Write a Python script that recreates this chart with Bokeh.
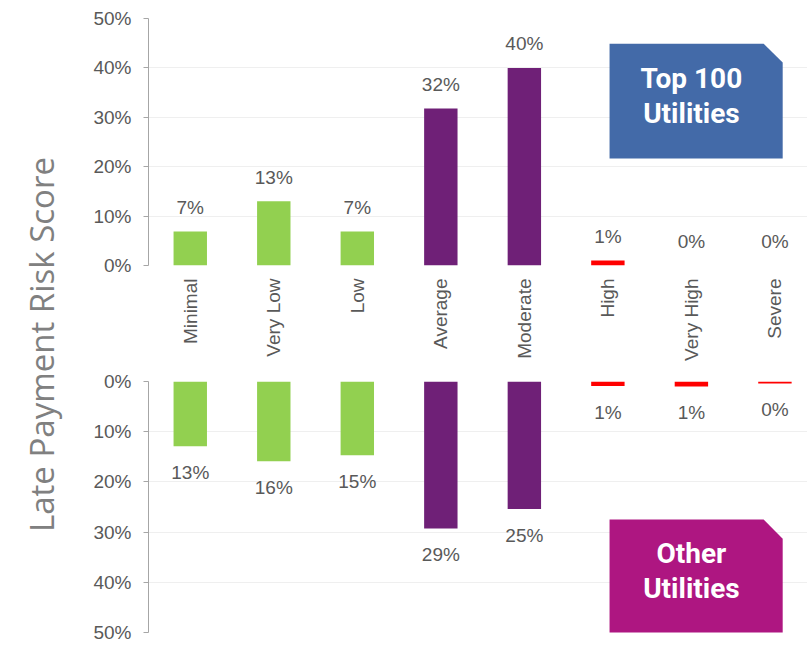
import math
from bokeh.plotting import figure
from bokeh.layouts import row, column
from bokeh.models import (Range1d, FixedTicker, PrintfTickFormatter, ColumnDataSource,
                          PolyAnnotation, Label)
from bokeh.core.properties import value
from bokeh.embed import file_html
from bokeh.resources import INLINE

# ---------------- data ----------------
categories = ["Minimal", "Very Low", "Low", "Average", "Moderate", "High", "Very High", "Severe"]
top100_values = [6.9, 13.0, 6.9, 31.8, 40.0, 1.0, 0.0, 0.0]
other_values = [12.9, 15.9, 14.7, 29.3, 25.4, 0.9, 1.0, 0.4]
pct_ticks = [0, 10, 20, 30, 40, 50]
axis_title = "Late Payment Risk Score"
top_box_lines = ["Top 100", "Utilities"]
bottom_box_lines = ["Other", "Utilities"]

# ---------------- styles ----------------
bar_colors = ["#92d050"] * 3 + ["#6f2077"] * 2 + ["#ff0000"] * 3
TXT = "#595959"
GRID = "#efefef"
AXIS = "#a6a6a6"
FONT = "Liberation Sans"
FS = "19px"

idx = list(range(len(categories)))
X_RANGE = (-0.5, 7.39)


def base_fig(height, y_range, border_top, border_bottom, with_x_axis):
    kw = dict(width=729, height=height, x_range=Range1d(*X_RANGE), y_range=y_range,
              output_backend="svg", toolbar_location=None,
              min_border_left=70, min_border_right=0,
              min_border_top=border_top, min_border_bottom=border_bottom)
    if not with_x_axis:
        kw["x_axis_location"] = None
    p = figure(**kw)
    p.outline_line_color = None
    p.xgrid.grid_line_color = None
    p.ygrid.grid_line_color = GRID
    p.ygrid.ticker = FixedTicker(ticks=pct_ticks)
    yax = p.yaxis[0]
    yax.ticker = FixedTicker(ticks=pct_ticks)
    yax.formatter = PrintfTickFormatter(format="%d%%")
    yax.axis_line_color = AXIS
    yax.major_tick_line_color = AXIS
    yax.major_tick_out = 5
    yax.major_tick_in = 0
    yax.minor_tick_line_color = None
    yax.major_label_text_font = FONT
    yax.major_label_text_font_size = FS
    yax.major_label_text_color = TXT
    yax.major_label_standoff = 12
    return p


# ---------------- top panel ----------------
src_top = ColumnDataSource(dict(x=idx, v=top100_values, c=bar_colors,
                                lab=[f"{round(v)}%" for v in top100_values]))
top = base_fig(370, Range1d(0, 50), 18, 105, True)
top.vbar(x="x", top="v", bottom=0, width=0.4, fill_color="c", line_color=None, source=src_top)
top.text(x="x", y="v", text="lab", source=src_top, y_offset=-24,
         text_align="center", text_baseline="alphabetic",
         text_font=value(FONT), text_font_size=FS, text_color=TXT)
xax = top.xaxis[0]
xax.ticker = FixedTicker(ticks=idx)
xax.major_label_overrides = {i: c for i, c in zip(idx, categories)}
xax.major_label_orientation = math.pi / 2
xax.axis_line_color = None
xax.major_tick_line_color = None
xax.minor_tick_line_color = None
xax.major_label_standoff = 7
xax.major_label_text_font = FONT
xax.major_label_text_font_size = FS
xax.major_label_text_color = TXT

top.add_layout(PolyAnnotation(xs=[5.02, 6.865, 7.093, 7.093, 5.02],
                              ys=[44.9, 44.9, 41.1, 21.66, 21.66],
                              fill_color="#436aa8", fill_alpha=1.0, line_color=None))
for txt, yy in zip(top_box_lines, [37.9, 30.7]):
    top.add_layout(Label(x=6.0, y=yy, text=txt, text_align="center", text_baseline="alphabetic",
                         text_font="Roboto", text_font_style="bold", text_font_size="28px",
                         text_color="white"))

# ---------------- bottom panel ----------------
src_bot = ColumnDataSource(dict(x=idx, v=other_values, c=bar_colors,
                                lab=[f"{round(v)}%" for v in other_values]))
bot = base_fig(277, Range1d(50, 0), 11, 15, False)
bot.vbar(x="x", top=0, bottom="v", width=0.4, fill_color="c", line_color=None, source=src_bot)
bot.text(x="x", y="v", text="lab", source=src_bot, y_offset=26,
         text_align="center", text_baseline="alphabetic",
         text_font=value(FONT), text_font_size=FS, text_color=TXT)

bot.add_layout(PolyAnnotation(xs=[5.02, 6.865, 7.093, 7.093, 5.02],
                              ys=[27.5, 27.5, 31.3, 50.5, 50.5],
                              fill_color="#ae1681", fill_alpha=1.0, line_color=None))
for txt, yy in zip(bottom_box_lines, [34.3, 41.3]):
    bot.add_layout(Label(x=6.0, y=yy, text=txt, text_align="center", text_baseline="alphabetic",
                         text_font="Roboto", text_font_style="bold", text_font_size="28px",
                         text_color="white"))

# ---------------- axis title ----------------
tf = figure(width=78, height=647, x_range=Range1d(0, 78), y_range=Range1d(0, 647),
            output_backend="svg", toolbar_location=None, x_axis_type=None, y_axis_type=None,
            min_border=0)
tf.outline_line_color = None
tf.grid.grid_line_color = None
tf.add_layout(Label(x=41, y=303, text=axis_title, angle=math.pi / 2,
                    text_align="center", text_baseline="alphabetic",
                    text_font="Open Sans", text_font_size="33px", text_color="#808080"))

layout = row(tf, column(top, bot))
open("out.html", "w").write(file_html(layout, INLINE))
